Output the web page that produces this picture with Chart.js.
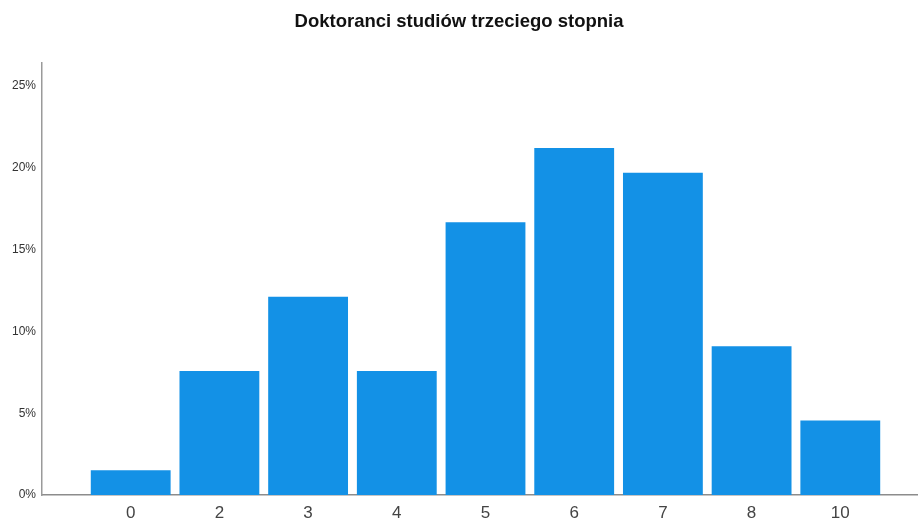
<!DOCTYPE html>
<html>
<head>
<meta charset="utf-8">
<script src="https://cdn.jsdelivr.net/npm/chart.js@4"></script>
<style>
  html, body { margin: 0; padding: 0; background: #fff; }
  #wrap { width: 918px; height: 523px; position: relative; }
</style>
</head>
<body>
<div id="wrap"><canvas id="c"></canvas></div>
<script>
const chartTitle = 'Doktoranci studiów trzeciego stopnia';
const categories = ['0', '2', '3', '4', '5', '6', '7', '8', '10'];
const percentValues = [1.52, 7.58, 12.12, 7.58, 16.67, 21.21, 19.70, 9.09, 4.55];
const yTickValues = [0, 5, 10, 15, 20, 25];

const barData = categories.map((c, i) => ({ x: i, y: percentValues[i] }));

new Chart(document.getElementById('c'), {
  type: 'bar',
  data: {
    datasets: [{
      data: barData,
      backgroundColor: '#1391e6',
      borderWidth: 0,
      barPercentage: 0.9,
      categoryPercentage: 1.0
    }]
  },
  options: {
    responsive: true,
    maintainAspectRatio: false,
    animation: false,
    layout: { padding: 0 },
    plugins: {
      legend: { display: false },
      tooltip: { enabled: false },
      title: {
        display: true,
        text: chartTitle,
        color: '#111',
        font: { family: 'Liberation Sans', size: 18.5, weight: 'bold' },
        padding: { top: 11, bottom: 30 }
      }
    },
    scales: {
      x: {
        type: 'linear',
        offset: false,
        min: -1,
        max: 8.876,
        grid: { display: false, drawTicks: false, offset: false },
        border: { display: true, color: '#8c8c8c', width: 1.5 },
        afterBuildTicks: (scale) => {
          scale.ticks = categories.map((c, i) => ({ value: i }));
        },
        afterFit: (scale) => { scale.height = 28; },
        ticks: {
          autoSkip: false,
          maxRotation: 0,
          padding: 8,
          color: '#444',
          font: { family: 'Liberation Sans', size: 17 },
          callback: (v) => categories[v] !== undefined ? categories[v] : ''
        }
      },
      y: {
        min: 0,
        max: 26.4,
        grid: { display: false, drawTicks: false },
        border: { display: true, color: '#9a9a9a', width: 1.5 },
        afterBuildTicks: (scale) => {
          scale.ticks = yTickValues.map(v => ({ value: v }));
        },
        afterFit: (scale) => { scale.width = 42; },
        ticks: {
          padding: 6,
          color: '#333',
          font: { family: 'Liberation Sans', size: 12 },
          callback: (v) => v + '%'
        }
      }
    }
  }
});
</script>
</body>
</html>
